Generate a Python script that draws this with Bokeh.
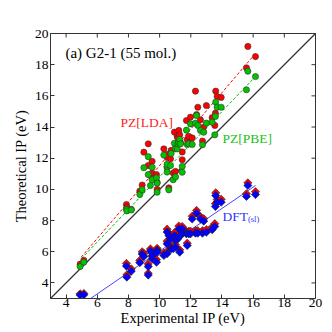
from bokeh.plotting import figure
from bokeh.models import Range1d, FixedTicker, Label
from bokeh.embed import file_html
from bokeh.resources import INLINE

# Experimental IPs (eV) of the molecules
exp_ip = [4.90, 5.14, 7.87, 7.90, 8.18, 8.73, 8.88, 8.99, 9.27, 9.27,
          9.41, 9.52, 9.52, 9.80, 9.84, 9.84, 10.27, 10.48, 10.48, 10.48,
          10.59, 10.70, 10.74, 10.87, 10.95, 11.02, 11.02, 11.13, 11.17, 11.23,
          11.29, 11.34, 11.45, 11.45, 11.72, 11.77, 11.87, 11.98, 12.09, 12.30,
          12.37, 12.45, 12.62, 12.75, 12.83, 13.00, 13.37, 13.54, 13.58, 13.60,
          13.69, 13.95, 15.57, 15.66, 16.15]
# PZ-SIC with LDA
pz_lda = [5.20, 5.45, 9.03, 8.85, 8.72, 9.89, 10.28, 12.39, 12.92, 11.53,
          10.89, 11.05, 11.80, 10.95, 10.45, 10.00, 12.60, 12.24, 11.40, 12.05,
          10.10, 11.96, 12.50, 11.05, 13.67, 11.15, 12.85, 13.40, 13.30, 13.78,
          13.50, 13.00, 11.90, 12.40, 14.42, 13.20, 13.40, 14.63, 13.30, 16.30,
          14.80, 15.27, 14.46, 13.10, 14.00, 15.38, 14.60, 14.10, 14.89, 16.30,
          15.96, 15.90, 17.80, 19.17, 18.52]
# PZ-SIC with PBE
pz_pbe = [5.05, 5.33, 8.72, 8.62, 8.68, 9.67, 9.98, 11.39, 12.10, 10.95,
          10.25, 10.62, 11.42, 10.74, 10.40, 9.82, 12.20, 11.47, 11.11, 11.60,
          9.97, 11.53, 12.30, 10.62, 12.96, 10.80, 12.60, 12.60, 12.92, 13.00,
          13.20, 12.92, 11.47, 11.10, 13.80, 12.88, 12.92, 14.20, 12.88, 14.25,
          14.74, 14.10, 13.78, 12.86, 13.67, 14.25, 14.31, 13.50, 14.68, 15.60,
          15.27, 15.27, 16.39, 17.58, 17.24]
# DFT (semi-local) -HOMO, LDA and PBE
dft_lda = [3.30, 3.32, 5.25, 4.52, 4.90, 5.45, 6.00, 5.88, 4.62, 5.22,
           6.18, 5.70, 5.92, 5.50, 6.22, 6.10, 5.92, 6.02, 6.68, 7.45,
           7.20, 7.00, 6.35, 6.33, 7.22, 6.88, 6.45, 7.00, 6.98, 7.65,
           6.12, 7.20, 7.62, 7.30, 7.32, 6.55, 7.30, 7.33, 8.28, 7.36,
           8.65, 7.35, 8.26, 7.35, 8.12, 7.42, 7.58, 7.80, 9.08, 9.78,
           9.35, 9.36, 9.72, 10.42, 9.85]
dft_pbe = [3.22, 3.24, 5.08, 4.37, 4.75, 5.30, 5.85, 5.70, 4.50, 5.05,
           6.04, 5.55, 5.75, 5.33, 6.08, 5.95, 5.76, 5.87, 6.51, 7.26,
           7.04, 6.83, 6.19, 6.19, 7.04, 6.72, 6.29, 6.83, 6.83, 7.47,
           5.97, 7.04, 7.47, 7.15, 7.15, 6.40, 7.15, 7.15, 8.10, 7.19,
           8.47, 7.19, 8.10, 7.19, 7.96, 7.25, 7.41, 7.62, 8.90, 9.60,
           9.18, 9.18, 9.55, 10.25, 9.67]

# linear fits (end points)
fit_x = [4.97, 16.15]
fit_lda = [5.65, 18.72]
fit_pbe = [5.55, 17.24]
fit_dft = [2.59, 10.25]

diag = [3, 20]
ticks = [4, 6, 8, 10, 12, 14, 16, 18, 20]
x_max = 20
y_max = 20

FONT = "Liberation Serif"

p = figure(width=332, height=332, x_range=Range1d(3, 20), y_range=Range1d(3, 20),
           output_backend="svg", toolbar_location=None,
           min_border_left=50, min_border_right=17, min_border_top=33, min_border_bottom=34)
p.xgrid.visible = False
p.ygrid.visible = False
p.outline_line_color = "#333333"
p.outline_line_width = 1
p.background_fill_color = "white"
p.border_fill_color = "white"

for ax in p.axis:
    ax.ticker = FixedTicker(ticks=ticks)
    ax.major_tick_in = 4
    ax.major_tick_out = 0
    ax.minor_tick_line_color = None
    ax.axis_line_color = "#333333"
    ax.major_tick_line_color = "#333333"
    ax.major_label_text_font = FONT
    ax.major_label_text_font_size = "13.5px"
    ax.major_label_text_color = "black"
    ax.axis_label_text_font = FONT
    ax.axis_label_text_font_size = "14.5px"
    ax.axis_label_text_font_style = "normal"
    ax.axis_label_text_color = "black"
p.xaxis.major_label_standoff = 0
p.xaxis.axis_label = "Experimental IP (eV)"
p.xaxis.axis_label_standoff = 0
p.yaxis.major_label_standoff = 2
p.yaxis.axis_label = "Theoretical IP (eV)"
p.yaxis.axis_label_standoff = 3

# inward ticks on top and right frame edges (half of each dash is clipped by the frame)
p.scatter(ticks, [y_max] * len(ticks), marker="dash", angle=1.5707963, size=8,
          line_color="#333333", line_width=1)
p.scatter([x_max] * len(ticks), ticks, marker="dash", size=8,
          line_color="#333333", line_width=1)

# diagonal
p.line(diag, diag, line_color="#333333", line_width=1.2)

# fit lines
p.line(fit_x, fit_lda, line_color="#ff0000", line_width=1, line_dash="3 2")
p.line(fit_x, fit_pbe, line_color="#00c000", line_width=1, line_dash="3 2")
p.line(fit_x, fit_dft, line_color="#4444ff", line_width=1)

# DFT diamonds
p.scatter(exp_ip, dft_lda, marker="square", angle=0.785398, size=5.8,
          fill_color="#ff0000", line_color="#222222", line_width=0.6)
p.scatter(exp_ip, dft_pbe, marker="square", angle=0.785398, size=5.8,
          fill_color="#0000ff", line_color="#222222", line_width=0.6)

# PZ circles
p.scatter(exp_ip, pz_lda, marker="circle", size=6.2,
          fill_color="#ff0000", line_color="#333333", line_width=0.6)
p.scatter(exp_ip, pz_pbe, marker="circle", size=6.2,
          fill_color="#00c400", line_color="#333333", line_width=0.6)

# texts
p.add_layout(Label(x=3.96, y=18.72, text="(a) G2-1 (55 mol.)", text_font=FONT,
                   text_font_size="15px", text_baseline="middle", text_color="black"))
p.add_layout(Label(x=7.49, y=14.29, text="PZ[LDA]", text_font=FONT,
                   text_font_size="13.5px", text_baseline="middle", text_color="#ff2020"))
p.add_layout(Label(x=14.03, y=13.26, text="PZ[PBE]", text_font=FONT,
                   text_font_size="13.5px", text_baseline="middle", text_color="#20c020"))
p.add_layout(Label(x=14.03, y=8.26, text="DFT", text_font=FONT,
                   text_font_size="13.5px", text_baseline="middle", text_color="#3333ff"))
p.add_layout(Label(x=14.03, x_offset=25.5, y=8.07, text="(sl)", text_font=FONT,
                   text_font_size="8.5px", text_baseline="middle", text_color="#3333ff"))

open("out.html", "w").write(file_html(p, INLINE))
